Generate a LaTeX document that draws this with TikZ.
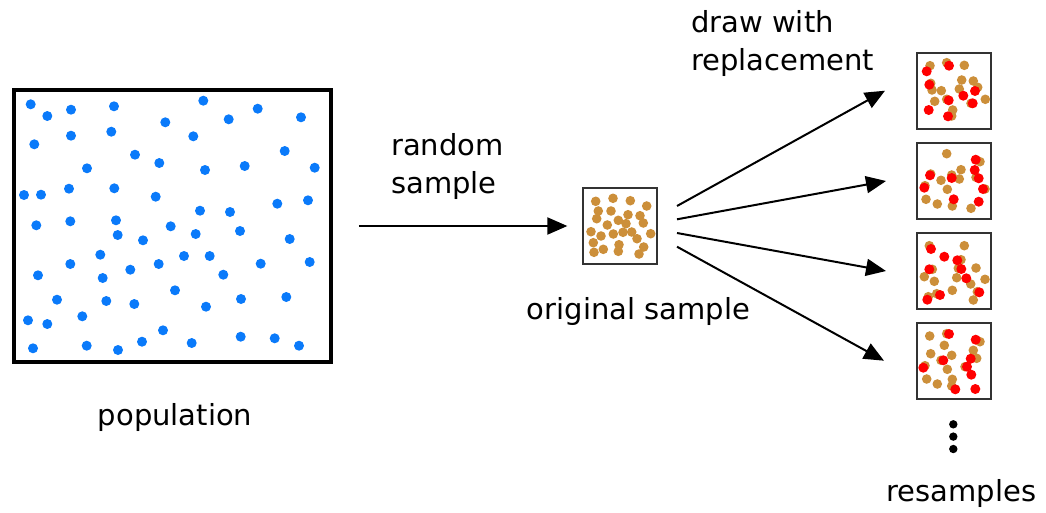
\documentclass[tikz,border=0pt]{standalone}
\usepackage{fontspec}
\setmainfont{DejaVu Sans}
\usetikzlibrary{arrows.meta}
\definecolor{popblue}{RGB}{10,122,250}
\definecolor{sampletan}{RGB}{204,143,58}
\definecolor{dupred}{RGB}{255,0,0}
\definecolor{boxgray}{RGB}{51,51,51}
\begin{document}
\begin{tikzpicture}[x=1pt,y=-1pt,
  lbl/.style={inner sep=0pt, font=\fontsize{29}{37.6}\selectfont},
  arr/.style={line width=2pt, -{Triangle[length=20pt, width=17pt]}},
  popbox/.style={draw=black, line width=3.5pt, minimum width=317pt, minimum height=272pt, inner sep=0pt},
  smallbox/.style={draw=boxgray, line width=1.3pt, minimum width=74pt, minimum height=76pt, inner sep=0pt},
  bdot/.style={fill=popblue},
  tdot/.style={fill=sampletan},
  rdot/.style={fill=dupred}]
\useasboundingbox (0,0) rectangle (1046,512);

% boxes
\node[popbox] (pop) at (172.5,226) {};
\node[smallbox] (orig) at (620,226) {};
\node[smallbox] (r1) at (954,91) {};
\node[smallbox] (r2) at (954,181) {};
\node[smallbox] (r3) at (954,271) {};
\node[smallbox] (r4) at (954,361) {};

% population dots
\foreach \px/\py in {30.7/104.3, 47.3/116, 71/109.7, 114/106.3, 203.3/100.7, 257.7/108.7, 301/117.3, 165.3/122.3, 228.7/119.3, 71/135.7, 111.3/131.7, 193.3/136.3, 34.3/144.3, 135/154.7, 159.3/163, 284.7/151, 87/168.3, 205/170, 244.7/166, 314.7/167.7, 24/195, 41/194.7, 69/188.7, 114.3/188.3, 155.7/196.7, 277.3/203.7, 308/200.3, 200/210.7, 230/212, 36.3/225.3, 70.3/221.3, 116/220.3, 170.7/226.3, 117.7/235, 195.7/234, 240/231, 143/240.3, 289.7/239, 100.3/254.7, 184/256, 209.7/256, 70.3/264, 130.3/269.7, 158.7/264, 260.7/263.7, 309.7/262, 38/275.3, 102.7/278, 223.3/274.7, 175/290.3, 57/299.7, 106.3/301, 134.3/304, 206/306.7, 241/299, 286.3/297, 28/320.3, 47.3/324, 82.3/316.3, 163/330.3, 142/341.7, 191.7/343, 240.7/336.7, 274.7/338.3, 299/345.7, 33/348.3, 86.7/345.7, 118/350}
  \fill[bdot] (\px,\py) circle[radius=5pt];

% original sample dots
\foreach \px/\py in {595.7/201.3, 613/198.3, 630.3/200.7, 646.7/206, 598.3/211, 611/211, 596.7/218.7, 628/214.7, 640/215.7, 618.3/220.3, 626/223.7, 643.3/223, 607.3/225, 591/231.7, 613.3/234, 623/232.3, 631.7/232, 650.7/233.7, 601/236, 637/238.7, 593.3/242.7, 619/244.7, 643.7/247, 603.3/249.3, 594/252.3, 618.3/251.3, 639/254}
  \fill[tdot] (\px,\py) circle[radius=4.8pt];

% resample 1
\foreach \px/\py in {930/65.7, 946.7/62.7, 964.3/65.3, 961.7/80, 973.3/81, 977.7/87.3, 930.7/83.3, 932/90, 941.3/90.7, 959.3/89, 934.7/101.3, 946.7/99.3, 971/103.3, 985.3/99.3, 952.7/110, 951.7/116}
  \fill[tdot] (\px,\py) circle[radius=4.8pt];
\foreach \px/\py in {926.7/71.3, 949/65.7, 929.3/84.7, 975/91, 963.3/95.7, 948.7/100.3, 972.7/103.3, 928.7/110, 948/116.3}
  \fill[rdot] (\px,\py) circle[radius=5pt];

% resample 2
\foreach \px/\py in {946.7/153.7, 980/161.7, 961/169.7, 930.7/174, 951.7/175, 941/180.3, 959.3/179, 976/177.3, 947.3/189.3, 985/189, 926/199.3, 937.3/204, 952.3/206, 971/208.3, 925/185.7}
  \fill[tdot] (\px,\py) circle[radius=4.8pt];
\foreach \px/\py in {975.7/159.7, 974.7/170, 930/175.3, 951.7/178, 978.7/178.3, 924.3/187.7, 983/189, 953.7/199.3, 978.7/201.7}
  \fill[rdot] (\px,\py) circle[radius=5pt];

% resample 3
\foreach \px/\py in {929.3/245.7, 964.3/245.7, 961/259.7, 932.3/269.3, 958.3/268.3, 976/268, 924.3/276.7, 934.3/281.3, 956.7/277.7, 970.7/284, 985/279.3, 952.3/290.3, 936.7/293.7, 928.3/296.7, 973.3/300, 977.3/291.7}
  \fill[tdot] (\px,\py) circle[radius=4.8pt];
\foreach \px/\py in {931/249, 944.3/256.7, 957.3/260.3, 929.3/269.3, 961.3/269, 966.3/278.3, 979.3/292.3, 940/295, 927.3/299.7}
  \fill[rdot] (\px,\py) circle[radius=5pt];

% resample 4
\foreach \px/\py in {929.7/336, 946.7/333.7, 980/341.7, 944.3/345.3, 973.3/350.3, 930.7/353.7, 951.7/355.3, 941/360.3, 976.7/358.3, 947.3/369.3, 965/366.7, 925/365.7, 926.7/379, 937.3/384, 952.3/379.3, 951.7/386}
  \fill[tdot] (\px,\py) circle[radius=4.8pt];
\foreach \px/\py in {949/334, 975.7/339.7, 943.3/360.3, 970.7/358.7, 967/366.7, 923.3/367.7, 971.3/374.7, 955.3/389.3, 975.3/389}
  \fill[rdot] (\px,\py) circle[radius=5pt];

% arrows
\draw[arr, shorten <=26pt, shorten >=15pt] (pop) -- (orig);
\coordinate (s1) at (677,206);
\coordinate (s2) at (677,219.3);
\coordinate (s3) at (677,233);
\coordinate (s4) at (677,246.7);
\coordinate (t1) at (885,90.7);
\coordinate (t2) at (886,181);
\coordinate (t3) at (886,271);
\coordinate (t4) at (884,360.7);
\draw[arr] (s1) -- (t1);
\draw[arr] (s2) -- (t2);
\draw[arr] (s3) -- (t3);
\draw[arr] (s4) -- (t4);

% vertical ellipsis
\foreach \py in {424.3,436.6,449}
  \fill[black] (953.3,\py) circle[radius=4.2pt];

% labels
\node[lbl, anchor=base] (poplbl) at (175,425) {population};
\node[lbl, anchor=base west, align=left] (rslbl) at (391,193.3) {random\\sample};
\node[lbl, anchor=base west, align=left] (dwlbl) at (691,70) {draw with\\replacement};
\node[lbl, anchor=base] (origlbl) at (638.5,319.3) {original sample};
\node[lbl, anchor=base] (reslbl) at (961.5,501) {resamples};
\end{tikzpicture}
\end{document}
